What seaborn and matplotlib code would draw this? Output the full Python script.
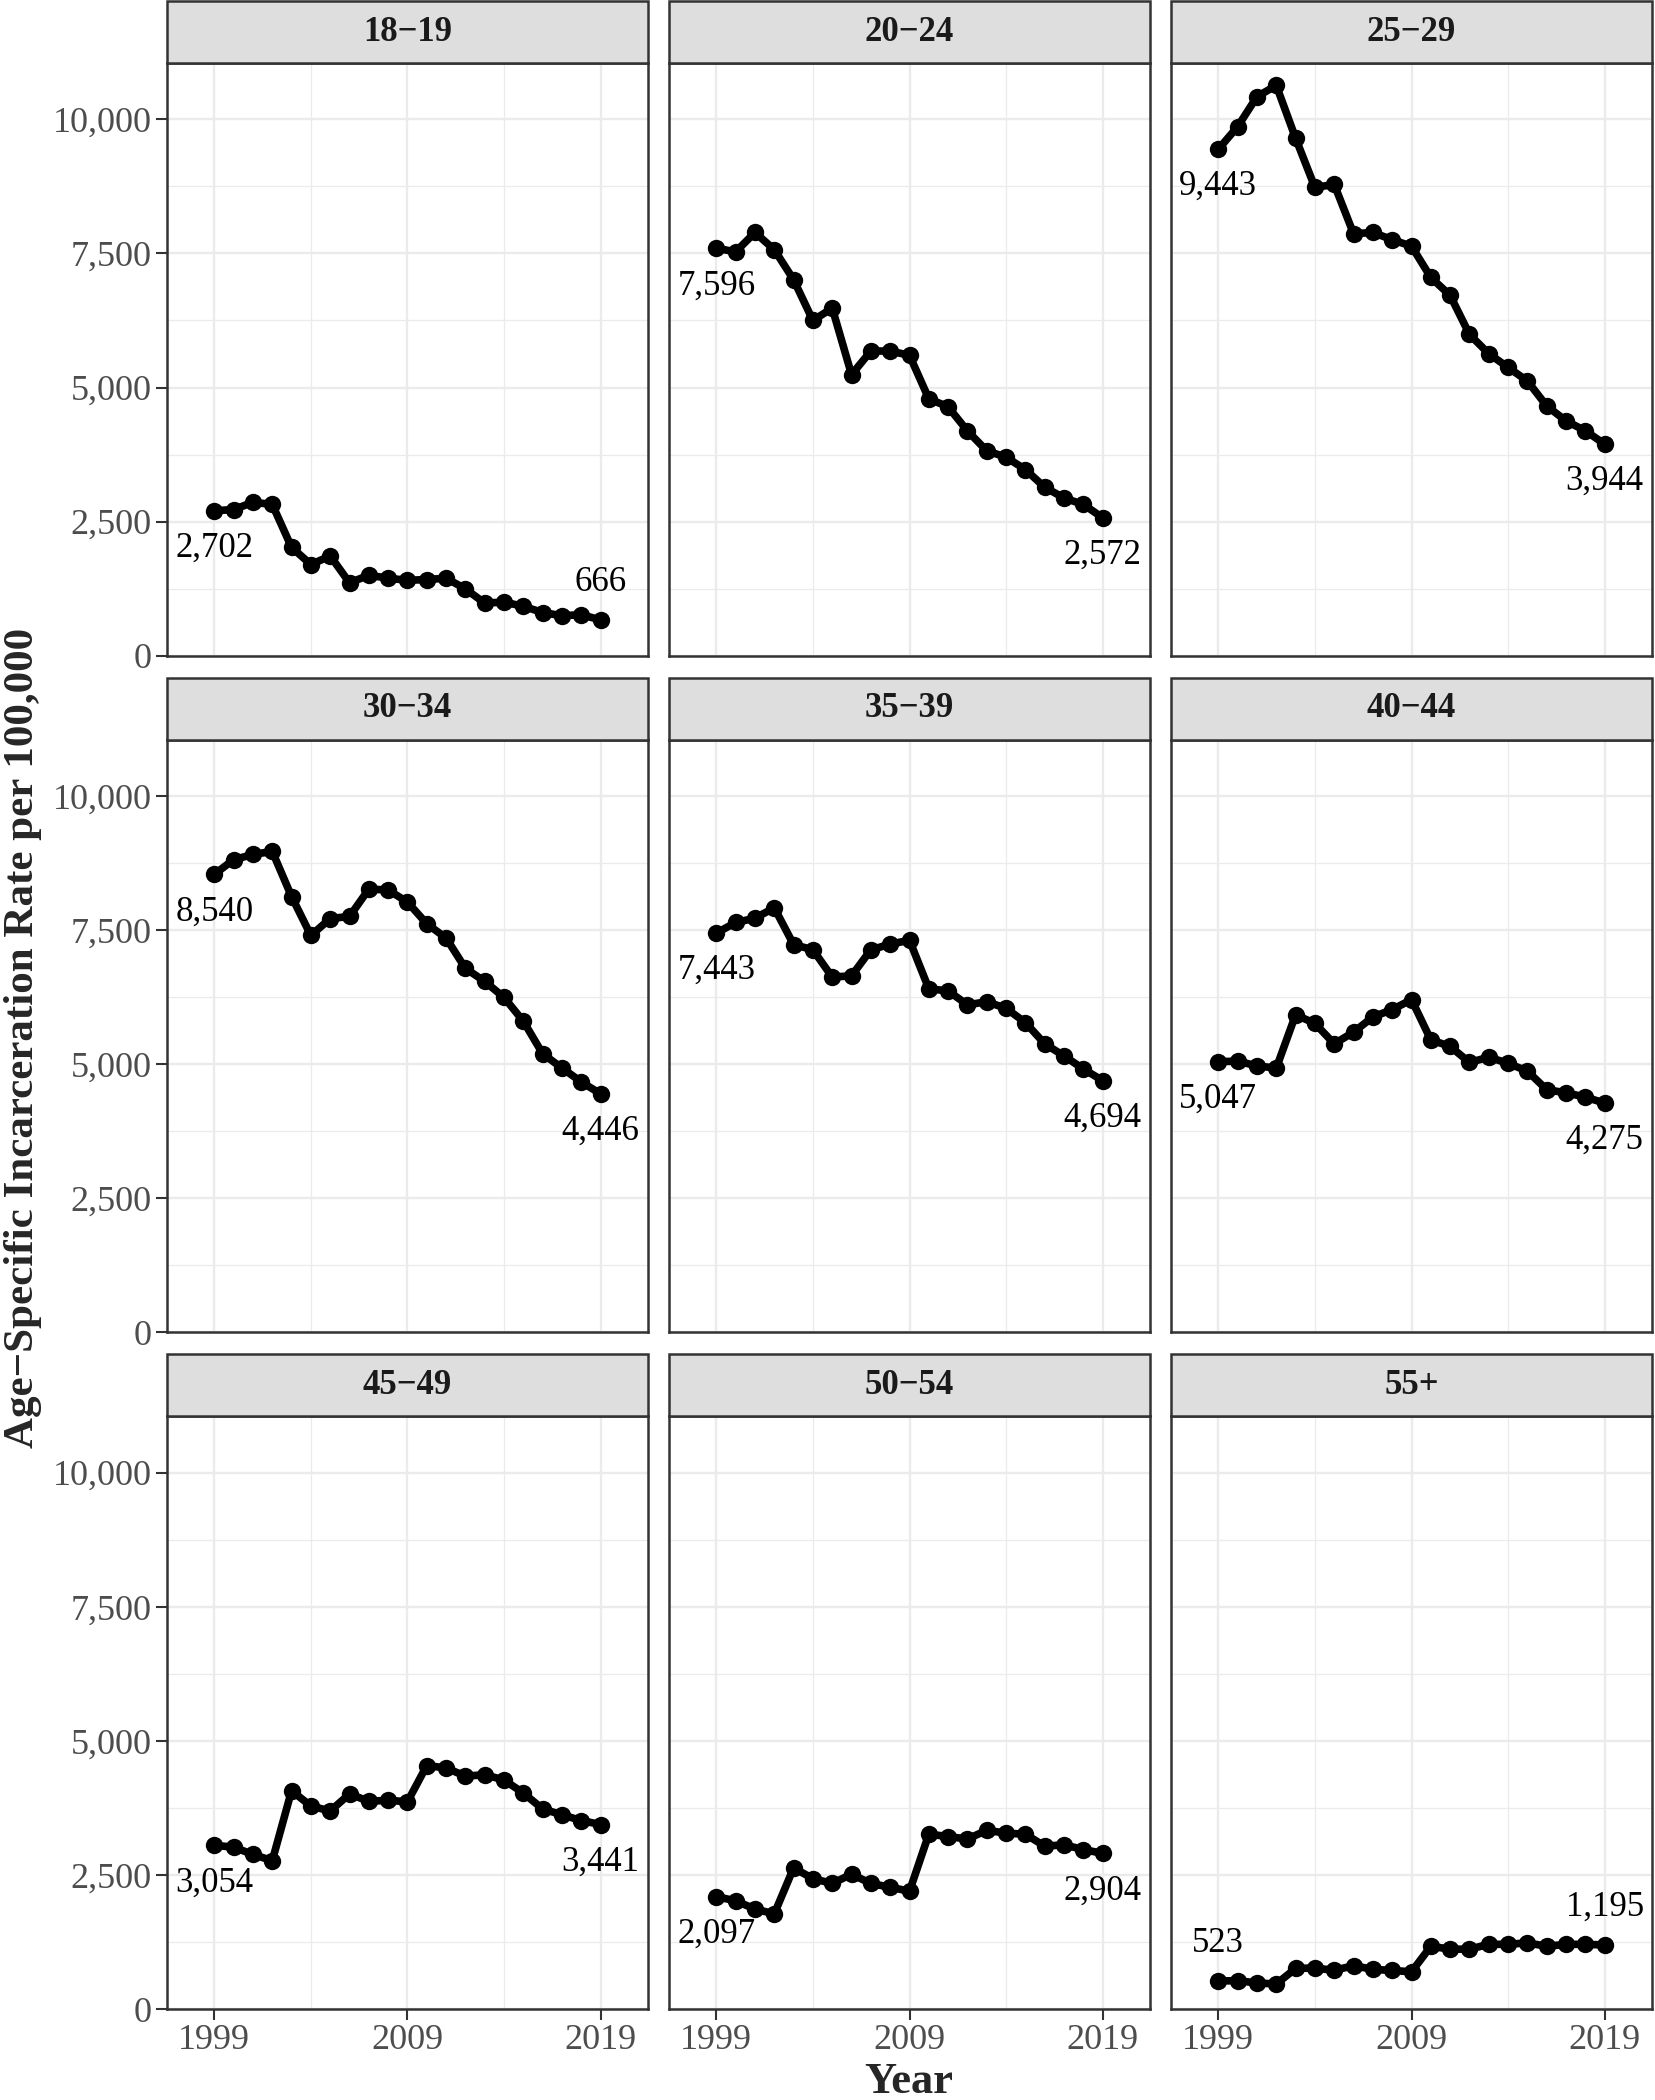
"""Age-specific incarceration rates per 100,000, faceted by age group (1999-2019)."""

import matplotlib.pyplot as plt
import matplotlib.ticker as mticker
import numpy as np
import pandas as pd
import seaborn as sns
from matplotlib.patches import Rectangle

YEARS = list(range(1999, 2020))

AGE_GROUPS = ["18−19", "20−24", "25−29", "30−34", "35−39", "40−44", "45−49", "50−54", "55+"]

RATE_18_19 = [2702, 2725, 2860, 2820, 2020, 1700, 1860, 1360, 1500, 1445, 1405,
              1420, 1445, 1245, 980, 1000, 920, 805, 745, 765, 666]
RATE_20_24 = [7596, 7530, 7890, 7570, 7010, 6250, 6480, 5240, 5680, 5680, 5600,
              4790, 4640, 4190, 3820, 3700, 3470, 3140, 2940, 2820, 2572]
RATE_25_29 = [9443, 9864, 10423, 10631, 9648, 8730, 8786, 7867, 7890, 7755, 7635,
              7052, 6717, 5990, 5630, 5375, 5120, 4656, 4377, 4193, 3944]
RATE_30_34 = [8540, 8813, 8910, 8967, 8126, 7400, 7715, 7755, 8264, 8248, 8022,
              7618, 7351, 6786, 6543, 6244, 5800, 5194, 4928, 4669, 4446]
RATE_35_39 = [7443, 7642, 7722, 7916, 7230, 7133, 6624, 6648, 7133, 7238, 7311,
              6406, 6366, 6107, 6164, 6042, 5776, 5380, 5154, 4911, 4694]
RATE_40_44 = [5047, 5057, 4968, 4928, 5921, 5760, 5380, 5598, 5881, 6018, 6204,
              5453, 5332, 5033, 5130, 5016, 4871, 4524, 4467, 4386, 4275]
RATE_45_49 = [3054, 3018, 2883, 2766, 4072, 3784, 3694, 4009, 3874, 3892, 3865,
              4540, 4495, 4342, 4369, 4270, 4027, 3730, 3622, 3514, 3441]
RATE_50_54 = [2097, 2018, 1865, 1775, 2631, 2432, 2342, 2514, 2342, 2270, 2198,
              3261, 3216, 3171, 3333, 3279, 3261, 3036, 3063, 2973, 2904]
RATE_55_UP = [523, 530, 486, 468, 757, 766, 721, 811, 739, 721, 694,
              1171, 1117, 1117, 1207, 1207, 1234, 1171, 1207, 1207, 1195]

RATES = [RATE_18_19, RATE_20_24, RATE_25_29, RATE_30_34, RATE_35_39,
         RATE_40_44, RATE_45_49, RATE_50_54, RATE_55_UP]

# (first label above?, last label above?) - default is below the point
LABEL_ABOVE = {"18−19": (False, True), "55+": (True, True)}

FONT = ["Liberation Serif", "DejaVu Serif"]
GRID = "#EBEBEB"
DARK = "#333333"


def main() -> None:
    sns.set_theme(style="white")
    plt.rcParams["font.family"] = FONT

    df = pd.DataFrame(
        [(g, y, r) for g, vals in zip(AGE_GROUPS, RATES) for y, r in zip(YEARS, vals)],
        columns=["age", "year", "rate"],
    )

    fig, axes = plt.subplots(3, 3, figsize=(16.55, 21), dpi=100, sharex=True, sharey=True)
    fig.subplots_adjust(left=0.1009, right=0.9982, top=0.97, bottom=0.0433,
                        wspace=0.0437, hspace=0.1417)

    for i, (ax, group) in enumerate(zip(axes.flat, AGE_GROUPS)):
        sub = df[df["age"] == group]
        sns.lineplot(data=sub, x="year", y="rate", ax=ax, color="black",
                     linewidth=5.5, marker="o", markersize=12.5, markeredgewidth=0,
                     zorder=3)

        ax.set_xlim(1996.55, 2021.45)
        ax.set_ylim(0, 11050)
        ax.xaxis.set_major_locator(mticker.FixedLocator([1999, 2009, 2019]))
        ax.xaxis.set_minor_locator(mticker.FixedLocator([2004, 2014]))
        ax.yaxis.set_major_locator(mticker.FixedLocator([0, 2500, 5000, 7500, 10000]))
        ax.yaxis.set_minor_locator(mticker.FixedLocator([1250, 3750, 6250, 8750]))
        ax.yaxis.set_major_formatter(mticker.FuncFormatter(lambda v, _: f"{int(v):,}"))
        ax.grid(which="major", color=GRID, linewidth=1.7, zorder=0)
        ax.grid(which="minor", color=GRID, linewidth=0.9, zorder=0)
        ax.set_axisbelow(True)
        for sp in ax.spines.values():
            sp.set_color(DARK)
            sp.set_linewidth(1.8)
        ax.set_xlabel("")
        ax.set_ylabel("")

        row, col = divmod(i, 3)
        ax.tick_params(which="major", length=8, width=1.5, color=DARK,
                       labelsize=26, labelcolor="#4D4D4D", pad=3,
                       left=(col == 0), bottom=(row == 2),
                       labelleft=(col == 0), labelbottom=(row == 2))
        ax.tick_params(which="minor", length=0)

        # facet strip
        strip_h = 0.1046
        ax.add_patch(Rectangle((0, 1), 1, strip_h, transform=ax.transAxes,
                               facecolor="#DEDEDE", edgecolor=DARK, linewidth=1.8,
                               clip_on=False, zorder=5))
        ax.text(0.5, 1 + strip_h / 2, group, transform=ax.transAxes, ha="center",
                va="center", fontsize=25, fontweight="bold", color="#1A1A1A", zorder=6)

        # first / last value labels
        first_up, last_up = LABEL_ABOVE.get(group, (False, False))
        for idx, up in ((0, first_up), (-1, last_up)):
            yr = sub["year"].iloc[idx]
            val = sub["rate"].iloc[idx]
            ax.annotate(f"{val:,}", (yr, val), xytext=(0, 27 if up else -27),
                        textcoords="offset points", ha="center", va="center",
                        fontsize=25, color="black", zorder=4)

    fig.text(0.549, 1 - 2082 / 2100, "Year", ha="center", va="center",
             fontsize=32, fontweight="bold")
    fig.text(0.0139, 0.5057, "Age−Specific Incarceration Rate per 100,000", ha="center",
             va="center", rotation=90, fontsize=31, fontweight="bold")

    fig.savefig("out.png", dpi=100)
    plt.close(fig)


if __name__ == "__main__":
    main()
